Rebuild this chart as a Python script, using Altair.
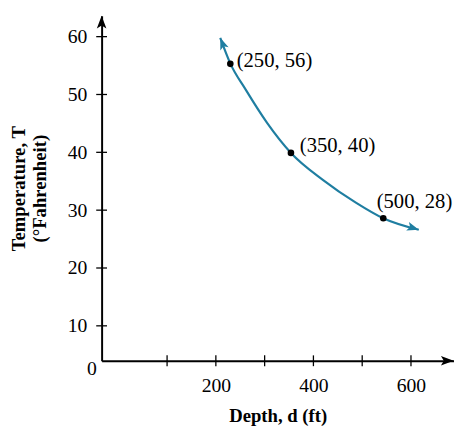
import altair as alt
import pandas as pd

# ---- data ----
curve_x = [209, 230, 261.5, 305, 354, 420, 487, 543, 616]
curve_y = [59.8, 55.3, 50.8, 45.1, 39.9, 35.2, 31.3, 28.6, 26.6]

point_x = [229.6, 353.9, 543.2]
point_y = [55.3, 39.9, 28.6]
point_labels = ["(250, 56)", "(350, 40)", "(500, 28)"]

x_tick_values = [100, 200, 300, 400, 500, 600]
x_label_values = [200, 400, 600]
y_tick_values = [10, 20, 30, 40, 50, 60]

X_DOMAIN = [-34.2, 687.6]
Y_DOMAIN = [3.96, 63.63]

CURVE_COLOR = "#1f7ea1"
FONT = "Liberation Serif"
ARROW = "M0,0 L-0.75,2 L0,1.55 L0.75,2 Z"

xs = alt.Scale(domain=X_DOMAIN, nice=False, zero=False)
ys = alt.Scale(domain=Y_DOMAIN, nice=False, zero=False)

x_axis = alt.Axis(
    values=x_label_values, ticks=False, tickSize=0, grid=False,
    domainColor="black", domainWidth=2,
    labelFont=FONT, labelFontSize=20, labelColor="black", labelPadding=15,
    title="Depth, d (ft)", titleFont=FONT, titleFontSize=19, titleFontWeight="bold",
    titleColor="black", titlePadding=12,
)
y_axis = alt.Axis(
    values=y_tick_values, ticks=False, tickSize=0, grid=False,
    domainColor="black", domainWidth=2,
    labelFont=FONT, labelFontSize=20, labelColor="black", labelPadding=15,
    title=["Temperature, T", "(°Fahrenheit)"], titleFont=FONT, titleFontSize=19,
    titleFontWeight="bold", titleColor="black", titlePadding=18, titleLineHeight=21,
)

X = alt.X("x:Q", scale=xs, axis=x_axis)
Y = alt.Y("y:Q", scale=ys, axis=y_axis)

curve_df = pd.DataFrame({"x": curve_x, "y": curve_y, "i": range(len(curve_x))})
points_df = pd.DataFrame({"x": point_x, "y": point_y, "label": point_labels})

curve = alt.Chart(curve_df).mark_line(
    color=CURVE_COLOR, strokeWidth=2.2, interpolate="monotone"
).encode(x=X, y=Y, order="i:Q")

# arrowheads at the curve ends
head_start = alt.Chart(curve_df.iloc[[0]]).mark_point(
    shape=ARROW, size=144, filled=True, color=CURVE_COLOR, opacity=1, angle=339
).encode(x=X, y=Y)
head_end = alt.Chart(curve_df.iloc[[-1]]).mark_point(
    shape=ARROW, size=144, filled=True, color=CURVE_COLOR, opacity=1, angle=108
).encode(x=X, y=Y)

pts = alt.Chart(points_df).mark_circle(size=45, color="black", opacity=1).encode(x=X, y=Y)

label_offsets = [(6.5, -3), (9, -7), (-6.7, -16)]
label_layers = []
for i, (dx, dy) in enumerate(label_offsets):
    label_layers.append(
        alt.Chart(points_df.iloc[[i]]).mark_text(
            align="left", baseline="middle", dx=dx, dy=dy,
            font=FONT, fontSize=21, color="black"
        ).encode(x=X, y=Y, text="label:N")
    )

# axis ticks crossing the axis lines
xt = alt.Chart(pd.DataFrame({"x": x_tick_values})).mark_tick(
    orient="vertical", size=11, thickness=1.3, color="black", opacity=1
).encode(x=X, y=alt.datum(Y_DOMAIN[0]))
yt = alt.Chart(pd.DataFrame({"y": y_tick_values})).mark_tick(
    orient="horizontal", size=11, thickness=1.3, color="black", opacity=1
).encode(y=Y, x=alt.datum(X_DOMAIN[0]))

# axis arrowheads
x_head = alt.Chart(pd.DataFrame({"x": [X_DOMAIN[1]]})).mark_point(
    shape=ARROW, size=169, filled=True, color="black", opacity=1, angle=90
).encode(x=X, y=alt.datum(Y_DOMAIN[0]))
y_head = alt.Chart(pd.DataFrame({"y": [Y_DOMAIN[1]]})).mark_point(
    shape=ARROW, size=169, filled=True, color="black", opacity=1, angle=0
).encode(y=Y, x=alt.datum(X_DOMAIN[0]))

zero = alt.Chart(pd.DataFrame({"t": ["0"]})).mark_text(
    align="center", baseline="middle", dx=-10, dy=8,
    font=FONT, fontSize=20, color="black"
).encode(x=alt.datum(X_DOMAIN[0]), y=alt.datum(Y_DOMAIN[0]), text="t:N")

chart = alt.layer(
    curve, head_start, head_end, pts, *label_layers, xt, yt, x_head, y_head, zero
).properties(
    width=358.4, height=351.3,
    padding={"left": 95.3, "top": 4, "right": 0.3, "bottom": 68},
    autosize=alt.AutoSizeParams(type="none"),
).configure_view(stroke=None)

chart.save("out.html", embed_options={"renderer": "svg", "actions": False})
